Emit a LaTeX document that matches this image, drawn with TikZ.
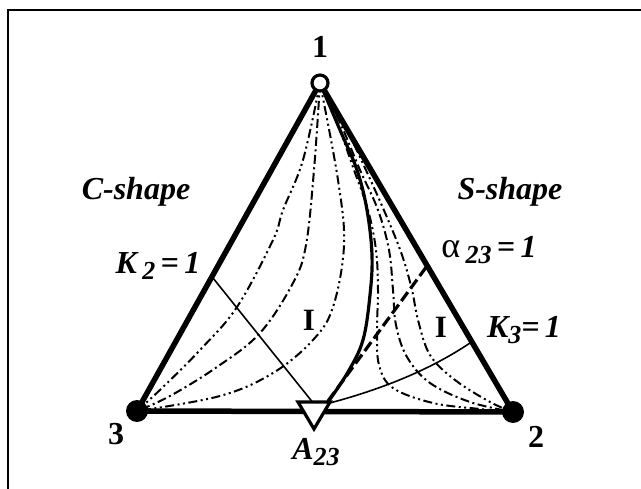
\documentclass[tikz,border=0pt]{standalone}
\usepackage{fontspec}
\setmainfont{Liberation Serif}
\begin{document}
\begin{tikzpicture}[x=1pt,y=-1pt,
  edge/.style={line width=5.5pt, line join=round},
  ddot/.style={line width=2pt, dash pattern=on 9pt off 3.5pt on 2pt off 3.5pt on 2pt off 3.5pt},
  dashdot/.style={line width=2pt, dash pattern=on 9pt off 3.5pt on 2pt off 3.5pt},
  thin/.style={line width=1.6pt},
  lbl/.style={font=\fontsize{32}{34}\selectfont\bfseries\itshape, inner sep=0pt},
  num/.style={font=\fontsize{32}{34}\selectfont\bfseries, inner sep=0pt},
  roman/.style={font=\fontsize{31}{33}\selectfont\bfseries, inner sep=0pt},
]
\newcommand{\sbs}[1]{\raisebox{-0.4ex}{\fontsize{26}{28}\selectfont #1}}
\useasboundingbox (0,0) rectangle (641,489);
\draw[line width=1.6pt] (8,489) -- (8,10) -- (641,10);
\coordinate (P1) at (320,83);
\coordinate (P2) at (513,412);
\coordinate (P3) at (137,411);
\coordinate (A) at (314,404);
\coordinate (K2) at (213,278);
\coordinate (K3) at (470,343);
\coordinate (Al) at (427,266);
% curves to vertex 3
\draw[ddot] plot[smooth, tension=0.6] coordinates {(P1) (303,160) (283,210) (273,240) (237,307) (200,350) (162,388) (P3)};
\draw[dashdot] plot[smooth, tension=0.6] coordinates {(P1) (314,170) (306,245) (293,283) (260,333) (217,367) (170,396) (P3)};
\draw[ddot] plot[smooth, tension=0.6] coordinates {(P1) (338,180) (344,245) (333,307) (313,340) (273,373) (220,396) (P3)};
% curves to vertex 2
\draw[ddot] plot[smooth, tension=0.6] coordinates {(P1) (338,125) (354,170) (368,210) (376,250) (378,290) (377,330) (379,365) (393,388) (433,403) (480,409) (P2)};
\draw[dashdot] plot[smooth, tension=0.6] coordinates {(P1) (341,125) (360,170) (378,210) (389,250) (393,290) (396,325) (407,357) (430,383) (470,402) (P2)};
\draw[ddot] plot[smooth, tension=0.6] coordinates {(P1) (343,122) (365,168) (386,215) (402,255) (412,290) (418,320) (430,355) (455,380) (490,402) (P2)};
% solid curve
\draw[line width=3.2pt] plot[smooth, tension=0.6] coordinates {(P1) (340,130) (357,170) (367,210) (372,255) (370,295) (363,340) (348,372) (328,402)};
% alpha23 = 1
\draw[line width=3.2pt, dash pattern=on 11pt off 4.5pt] (A) ++(14,-3) -- (Al);
% K lines
\draw[thin] (K2) -- (A);
\draw[thin] (K3) .. controls (430,370) and (380,390) .. ([xshift=12pt]A);
% triangle edges
\draw[edge] (P3) -- (P1) -- (P2) -- cycle;
% vertices
\node[circle, draw, fill=white, line width=3.2pt, minimum size=16pt, inner sep=0pt] (v1) at (P1) {};
\node[circle, fill=black, minimum size=22pt, inner sep=0pt] (v2) at (P2) {};
\node[circle, fill=black, minimum size=22pt, inner sep=0pt] (v3) at (P3) {};
\draw[line width=3.2pt, fill=white, line join=miter] (298,402) -- (330,402) -- (314,429) -- cycle;
% labels
\node[num] (l1) at (320,47) {1};
\node[num] (l3) at (116,434) {3};
\node[num] (l2) at (536,437) {2};
\node[lbl] (la) at (316,452) {A\sbs{23}};
\node[lbl] (lc) at (136,192) {C-shape};
\node[lbl] (ls) at (510,192) {S-shape};
\node[lbl] (lk2) at (158,266) {K\,\sbs{2}\,=\,1};
\node[lbl] (lal) at (489,250) {{\fontsize{36}{38}\selectfont\normalfont\upshape α}\,\sbs{23}\,=\,1};
\node[lbl] (lk3) at (524,330) {K\sbs{3}=\,1};
\node[roman] (i1) at (309,320) {I};
\node[roman] (i2) at (441,327) {I};
\end{tikzpicture}
\end{document}
